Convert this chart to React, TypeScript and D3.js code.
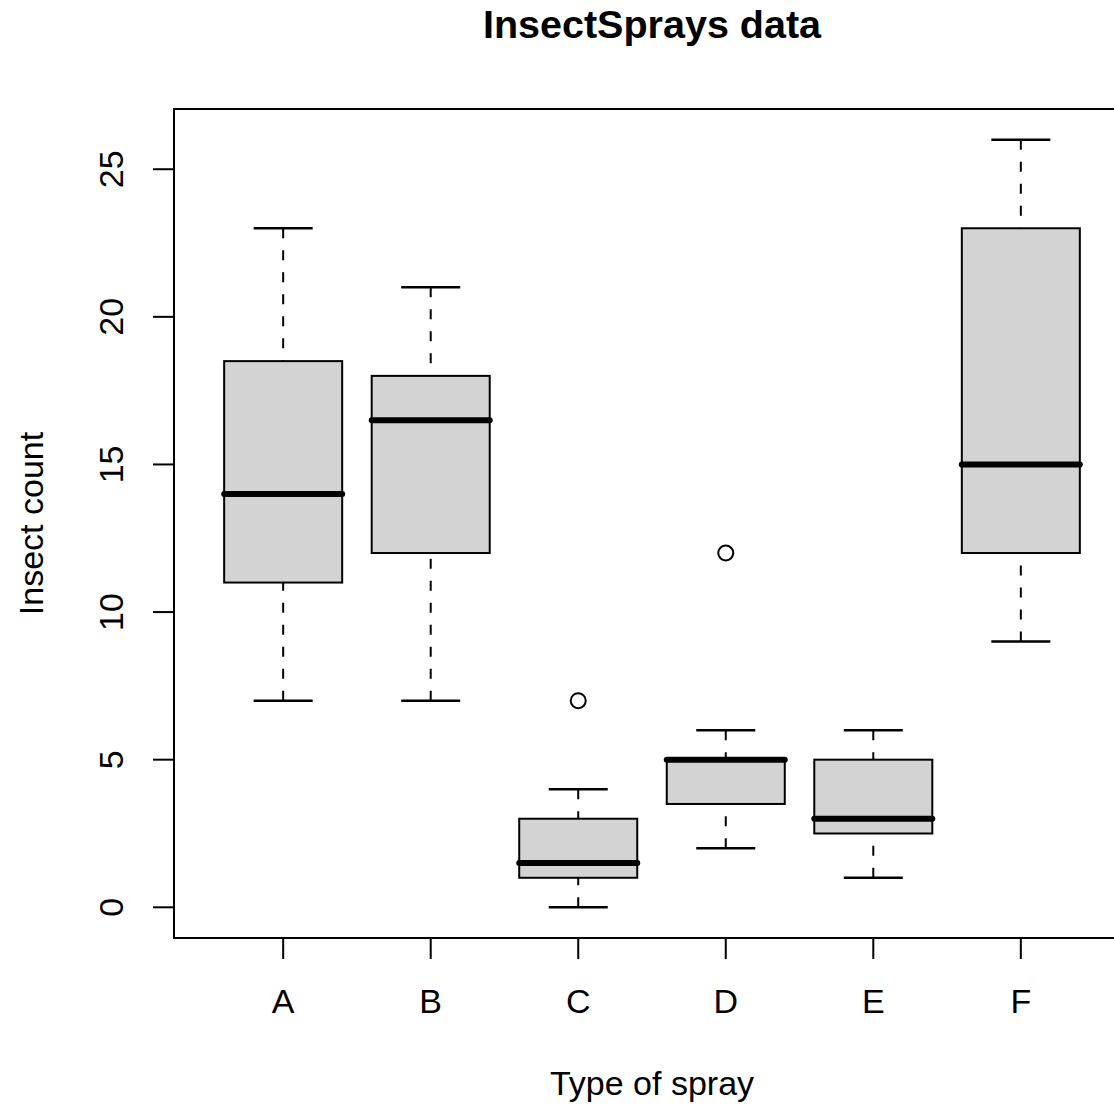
import * as d3 from "d3";

const sprays = ["A", "B", "C", "D", "E", "F"];
const lowWhisker = [7, 7, 0, 2, 1, 9];
const q1 = [11, 12, 1, 3.5, 2.5, 12];
const medians = [14, 16.5, 1.5, 5, 3, 15];
const q3 = [18.5, 18, 3, 5, 5, 23];
const highWhisker = [23, 21, 4, 6, 6, 26];
const outliers = [
  { spray: "C", value: 7 },
  { spray: "D", value: 12 },
];
const yTicks = [0, 5, 10, 15, 20, 25];

export default function App() {
  const width = 1114;
  const height = 1105;
  const left = 174;
  const right = 1130;
  const top = 109;
  const bottom = 938;
  const font = "'Liberation Sans', Arial, Helvetica, sans-serif";
  const fs = 34;

  const x = d3.scaleLinear().domain([0.26, 6.74]).range([left, right]);
  const y = d3.scaleLinear().domain([-1.04, 27.04]).range([bottom, top]);
  const unit = x(1) - x(0);
  const boxW = unit * 0.8;
  const stapleW = boxW * 0.5;

  return (
    <svg
      width={width}
      height={height}
      style={{ position: "absolute", left: 0, top: 0, background: "white" }}
    >
      <rect width={width} height={height} fill="white" />
      <text
        x={(left + right) / 2}
        y={38}
        textAnchor="middle"
        fontFamily={font}
        fontWeight="bold"
        fontSize={39.5}
      >
        InsectSprays data
      </text>

      {sprays.map((s, i) => {
        const cx = x(i + 1);
        return (
          <g key={s}>
            <line
              x1={cx}
              x2={cx}
              y1={y(highWhisker[i])}
              y2={y(q3[i])}
              stroke="black"
              strokeWidth={2}
              strokeDasharray="10 12"
            />
            <line
              x1={cx}
              x2={cx}
              y1={y(lowWhisker[i])}
              y2={y(q1[i])}
              stroke="black"
              strokeWidth={2}
              strokeDasharray="10 12"
            />
            <line
              x1={cx - stapleW / 2}
              x2={cx + stapleW / 2}
              y1={y(highWhisker[i])}
              y2={y(highWhisker[i])}
              stroke="black"
              strokeWidth={2.5}
            />
            <line
              x1={cx - stapleW / 2}
              x2={cx + stapleW / 2}
              y1={y(lowWhisker[i])}
              y2={y(lowWhisker[i])}
              stroke="black"
              strokeWidth={2.5}
            />
            <rect
              x={cx - boxW / 2}
              y={y(q3[i])}
              width={boxW}
              height={y(q1[i]) - y(q3[i])}
              fill="#d3d3d3"
              stroke="black"
              strokeWidth={2}
            />
            <line
              x1={cx - boxW / 2}
              x2={cx + boxW / 2}
              y1={y(medians[i])}
              y2={y(medians[i])}
              stroke="black"
              strokeWidth={6}
              strokeLinecap="round"
            />
          </g>
        );
      })}

      {outliers.map((o) => (
        <circle
          key={o.spray}
          cx={x(sprays.indexOf(o.spray) + 1)}
          cy={y(o.value)}
          r={7.5}
          fill="none"
          stroke="black"
          strokeWidth={2}
        />
      ))}

      <rect
        x={left}
        y={top}
        width={right - left}
        height={bottom - top}
        fill="none"
        stroke="black"
        strokeWidth={2}
      />

      {/* y axis */}
      <line
        x1={left}
        x2={left}
        y1={y(0)}
        y2={y(25)}
        stroke="black"
        strokeWidth={2}
      />
      {yTicks.map((t) => (
        <g key={t}>
          <line
            x1={left - 21}
            x2={left}
            y1={y(t)}
            y2={y(t)}
            stroke="black"
            strokeWidth={2}
          />
          <text
            transform={`translate(123,${y(t)}) rotate(-90)`}
            textAnchor="middle"
            fontFamily={font}
            fontSize={fs}
          >
            {t}
          </text>
        </g>
      ))}

      {/* x axis */}
      <line
        x1={x(1)}
        x2={x(6)}
        y1={bottom}
        y2={bottom}
        stroke="black"
        strokeWidth={2}
      />
      {sprays.map((s, i) => (
        <g key={s}>
          <line
            x1={x(i + 1)}
            x2={x(i + 1)}
            y1={bottom}
            y2={bottom + 21}
            stroke="black"
            strokeWidth={2}
          />
          <text
            x={x(i + 1)}
            y={1013}
            textAnchor="middle"
            fontFamily={font}
            fontSize={fs}
          >
            {s}
          </text>
        </g>
      ))}

      <text
        x={(left + right) / 2}
        y={1095}
        textAnchor="middle"
        fontFamily={font}
        fontSize={fs}
      >
        Type of spray
      </text>
      <text
        transform={`translate(43,${(top + bottom) / 2}) rotate(-90)`}
        textAnchor="middle"
        fontFamily={font}
        fontSize={fs}
      >
        Insect count
      </text>
    </svg>
  );
}
